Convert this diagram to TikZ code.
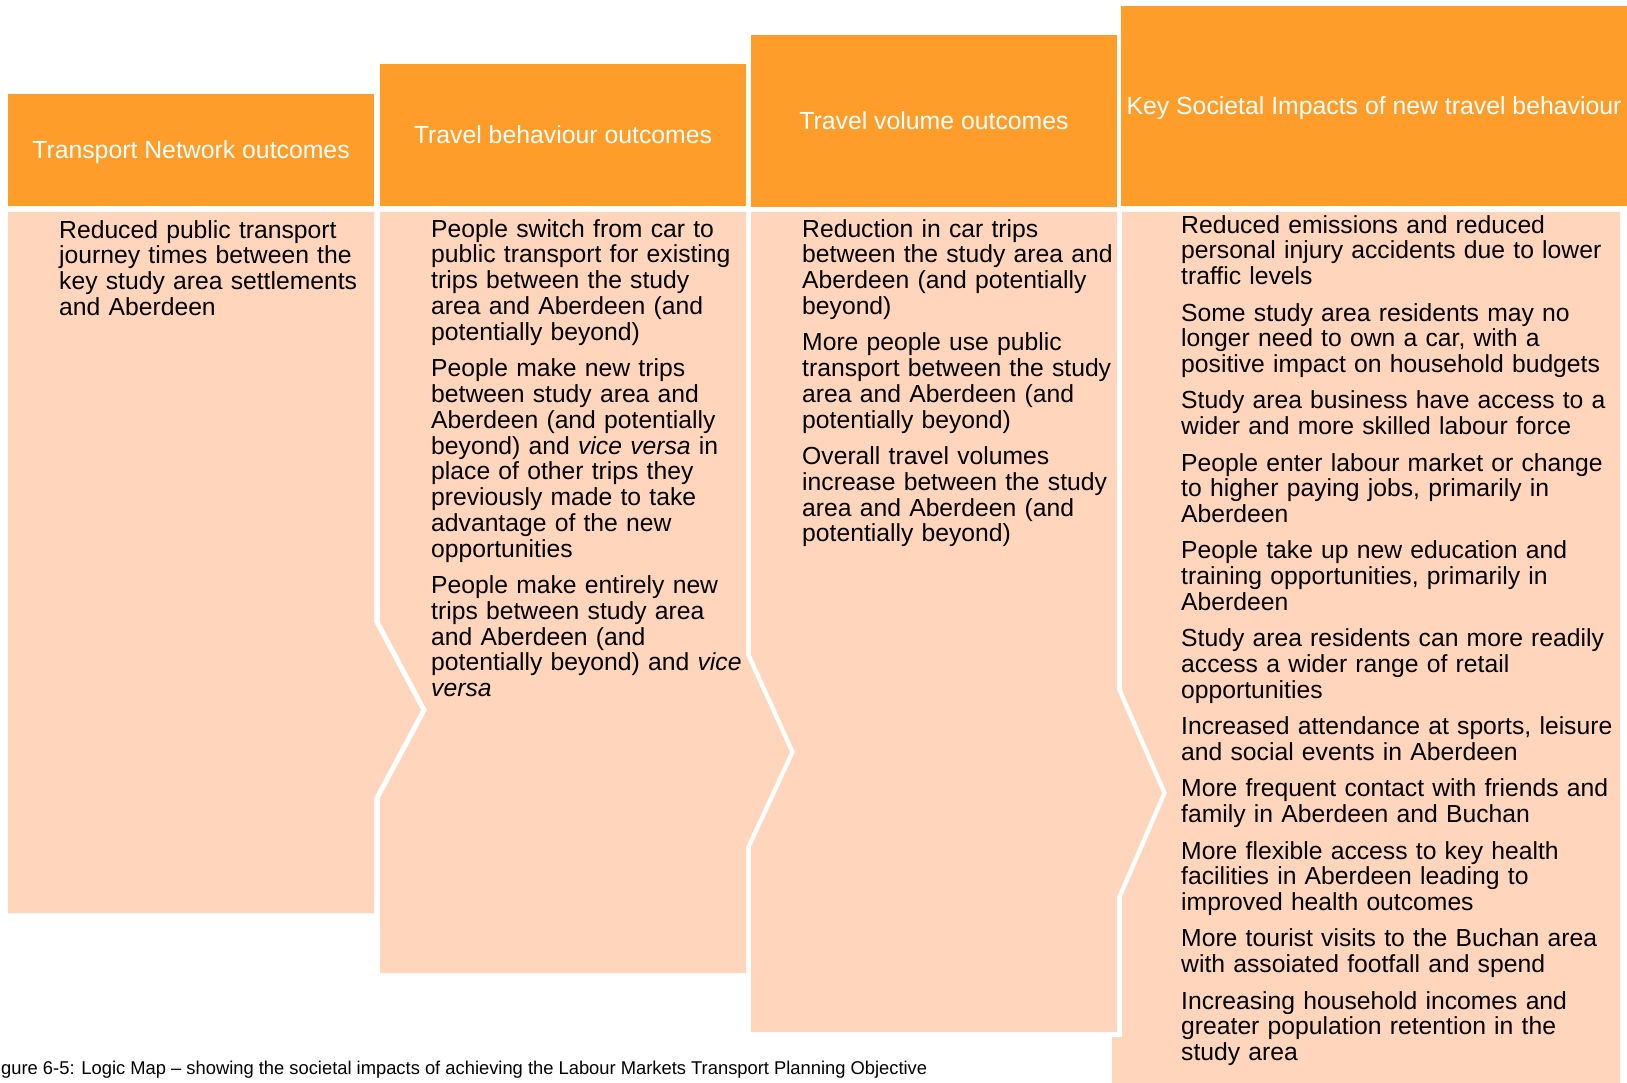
\documentclass[tikz,border=0pt]{standalone}
\usepackage{fontspec}
\setmainfont{Liberation Sans}
\usepackage{graphicx}
\definecolor{hdrorange}{RGB}{255,157,43}
\definecolor{bodypeach}{RGB}{255,213,188}
\newcommand{\lowertext}[1]{\raisebox{-2pt}[\height][\depth]{#1}}
\begin{document}
\begin{tikzpicture}[x=1pt,y=-1pt,
  hdr/.style={fill=hdrorange, text=white, inner sep=0pt, font=\fontsize{24.8}{28}\selectfont},
  bodyfill/.style={fill=bodypeach},
  bodytext/.style={anchor=north west, inner sep=0pt, text width=600pt, align=left, font=\fontsize{24.7}{25.8}\selectfont},
  captext/.style={anchor=base west, inner sep=0pt, font=\fontsize{18.5}{20}\selectfont}
]
\useasboundingbox (0,0) rectangle (1627,1083);

% column bodies (chevron shapes)
\fill[bodyfill] (8,212) -- (374,212) -- (374,622) -- (421,710) -- (374,798) -- (374,913) -- (8,913) -- cycle;
\fill[bodyfill] (380,212) -- (746,212) -- (746,655) -- (790,752) -- (746,847) -- (746,973) -- (380,973) -- (380,798) -- (427,710) -- (380,622) -- cycle;
\fill[bodyfill] (751,212) -- (1117,212) -- (1117,690) -- (1162,793) -- (1117,897) -- (1117,1032) -- (751,1032) -- (751,847) -- (795,752) -- (751,655) -- cycle;
\fill[bodyfill] (1122,212) -- (1620,212) -- (1620,1083) -- (1112,1083) -- (1112,1037) -- (1122,1037) -- (1122,897) -- (1167,793) -- (1122,690) -- cycle;

% headers
\node[hdr, minimum width=366pt, minimum height=112pt] (h1) at (191,150) {\lowertext{Transport Network outcomes}};
\node[hdr, minimum width=366pt, minimum height=142pt] (h2) at (563,135) {Travel behaviour outcomes};
\node[hdr, minimum width=366pt, minimum height=172pt] (h3) at (934,121) {Travel volume outcomes};
\node[hdr, minimum width=506pt, minimum height=200pt] (h4) at (1374,106) {\lowertext{Key Societal Impacts of new travel behaviour}};

% body texts
\node[bodytext] (t1) at (59,218) {\rule{0pt}{20pt}Reduced public transport\\
journey times between the\\
key study area settlements\\
and Aberdeen};

\node[bodytext] (t2) at (431,217) {\rule{0pt}{20pt}People switch from car to\\
public transport for existing\\
trips between the study\\
area and Aberdeen (and\\
potentially beyond)\\[10.5pt]
People make new trips\\
between study area and\\
Aberdeen (and potentially\\
beyond) and \textit{vice versa} in\\
place of other trips they\\
previously made to take\\
advantage of the new\\
opportunities\\[10.5pt]
People make entirely new\\
trips between study area\\
and Aberdeen (and\\
potentially beyond) and \textit{vice}\\
\textit{versa}};

\node[bodytext] (t3) at (802,217) {\rule{0pt}{20pt}Reduction in car trips\\
between the study area and\\
Aberdeen (and potentially\\
beyond)\\[10.5pt]
More people use public\\
transport between the study\\
area and Aberdeen (and\\
potentially beyond)\\[10.5pt]
Overall travel volumes\\
increase between the study\\
area and Aberdeen (and\\
potentially beyond)};

\node[bodytext] (t4) at (1181,213) {\rule{0pt}{20pt}Reduced emissions and reduced\\
personal injury accidents due to lower\\
traffic levels\\[10.5pt]
Some study area residents may no\\
longer need to own a car, with a\\
positive impact on household budgets\\[10.5pt]
Study area business have access to a\\
wider and more skilled labour force\\[10.5pt]
People enter labour market or change\\
to higher paying jobs, primarily in\\
Aberdeen\\[10.5pt]
People take up new education and\\
training opportunities, primarily in\\
Aberdeen\\[10.5pt]
Study area residents can more readily\\
access a wider range of retail\\
opportunities\\[10.5pt]
Increased attendance at sports, leisure\\
and social events in Aberdeen\\[10.5pt]
More frequent contact with friends and\\
family in Aberdeen and Buchan\\[10.5pt]
More flexible access to key health\\
facilities in Aberdeen leading to\\
improved health outcomes\\[10.5pt]
More tourist visits to the Buchan area\\
with assoiated footfall and spend\\[10.5pt]
Increasing household incomes and\\
greater population retention in the\\
study area};

% caption
\node[captext] (cap) at (1,1074) {\resizebox{926pt}{\height}{gure 6-5: Logic Map -- showing the societal impacts of achieving the Labour Markets Transport Planning Objective}};
\end{tikzpicture}
\end{document}
